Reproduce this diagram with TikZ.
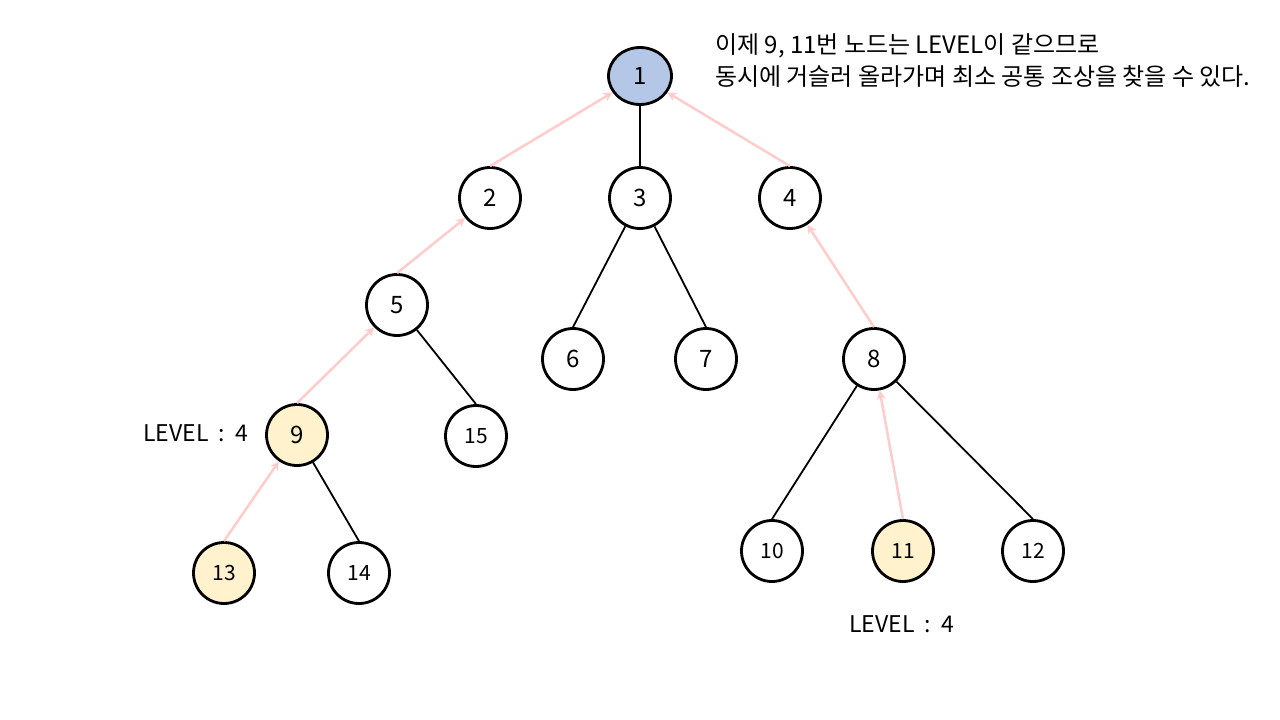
\documentclass[tikz,border=0pt]{standalone}
\usepackage{fontspec}
\setmainfont{Noto Sans CJK KR}
\usetikzlibrary{arrows.meta,shapes.geometric}
\definecolor{nodeblue}{RGB}{180,199,231}
\definecolor{nodeyellow}{RGB}{255,242,204}
\definecolor{arrowpink}{RGB}{255,204,204}
\tikzset{
 tn/.style={circle, draw=black, line width=2.8pt, minimum size=61pt, inner sep=0pt, font=\fontsize{24}{28}\selectfont, fill=white},
 tn2/.style={tn, font=\fontsize{21}{24}\selectfont},
 edge/.style={draw=black, line width=1.8pt},
 up/.style={draw=arrowpink, line width=2.5pt, -{Stealth[length=9pt,width=9pt]}},
 lbl/.style={font=\fontsize{23}{28}\selectfont, inner sep=0pt},
}
\begin{document}
\begin{tikzpicture}[x=1pt,y=-1pt]
\useasboundingbox[fill=white] (0,0) rectangle (1280,720);
\node[tn, ellipse, minimum width=63pt, minimum height=57pt, fill=nodeblue] (n1) at (640,76) {1};
\node[tn] (n2) at (490,198) {2};
\node[tn] (n3) at (640,198) {3};
\node[tn] (n4) at (790,198) {4};
\node[tn] (n5) at (397,305) {5};
\node[tn] (n6) at (573,359) {6};
\node[tn] (n7) at (706,359) {7};
\node[tn] (n8) at (874,359) {8};
\node[tn, fill=nodeyellow] (n9) at (297,435) {9};
\node[tn2] (n15) at (476,436) {15};
\node[tn2, fill=nodeyellow] (n13) at (224,573) {13};
\node[tn2] (n14) at (359,573) {14};
\node[tn2] (n10) at (772,551) {10};
\node[tn2, fill=nodeyellow] (n11) at (903,551) {11};
\node[tn2] (n12) at (1033,551) {12};
% black edges
\draw[edge] (n1) -- (n3.north);
\draw[edge] (n3) -- (n6.north);
\draw[edge] (n3) -- (n7.north);
\draw[edge] (n5) -- (n15.north);
\draw[edge] (n9) -- (n14.north);
\draw[edge] (n8) -- (n10.north);
\draw[edge] (n8) -- (n12.north);
% pink upward arrows
\draw[up] (n2.north) -- (n1);
\draw[up] (n4.north) -- (n1);
\draw[up] (n5.north) -- (n2);
\draw[up] (n9.north) -- (n5);
\draw[up] (n13.north) -- (n9);
\draw[up] (n8.north) -- (n4);
\draw[up] (n11.north) -- (n8);
% labels
\node[lbl, anchor=west] (lv1) at (143,433) {LEVEL\hspace{0.45em}:\hspace{0.45em}4};
\node[lbl, anchor=west] (lv2) at (849,624) {LEVEL\hspace{0.45em}:\hspace{0.45em}4};
\node[lbl, anchor=north west, align=left, font=\fontsize{24}{32}\selectfont] (note) at (715,33) {이제 9, 11번 노드는 LEVEL이 같으므로\\동시에 거슬러 올라가며 최소 공통 조상을 찾을 수 있다.};
\end{tikzpicture}
\end{document}
